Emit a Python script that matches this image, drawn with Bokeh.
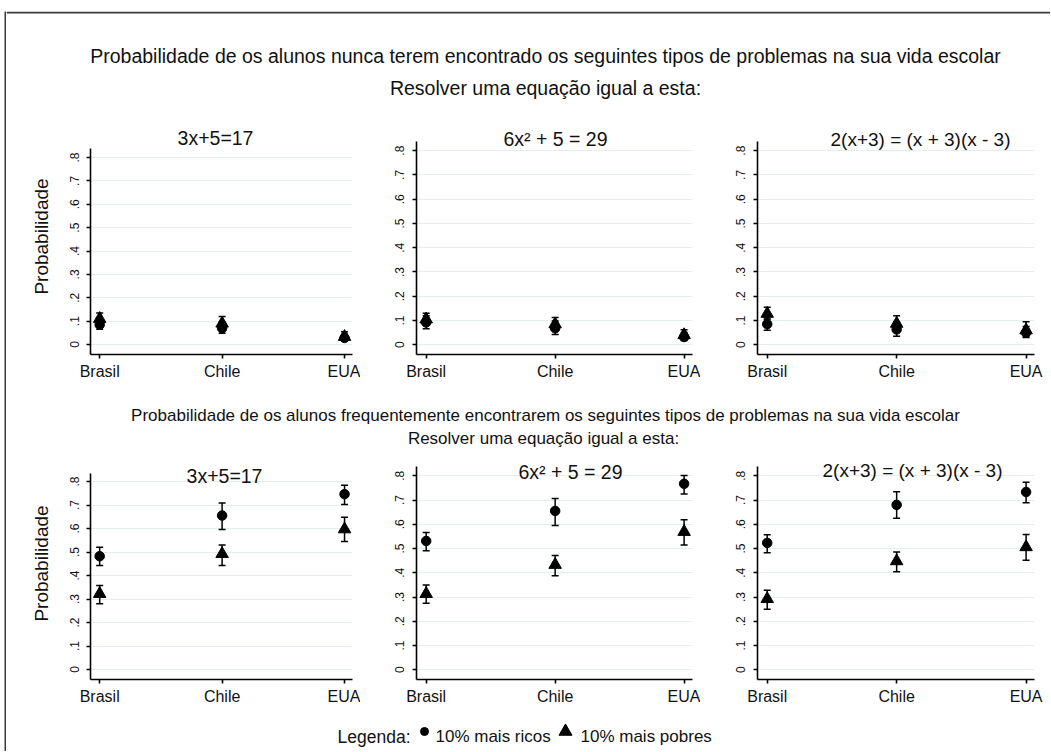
from bokeh.plotting import figure
from bokeh.layouts import column, row
from bokeh.models import Range1d, FixedTicker, Whisker, TeeHead, ColumnDataSource
from bokeh.core.properties import value
from bokeh.embed import file_html
from bokeh.resources import INLINE

FONT = "Liberation Sans"
INK = "#111111"
FRAME = "#3a3a3a"

# ---------------- data ----------------
countries = ["Brasil", "Chile", "EUA"]
country_pos = [1, 2, 3]
y_tick_values = [0, 0.1, 0.2, 0.3, 0.4, 0.5, 0.6, 0.7, 0.8]
y_tick_labels = ["0", ".1", ".2", ".3", ".4", ".5", ".6", ".7", ".8"]
equations = ["3x+5=17", "6x\u00b2 + 5 = 29", "2(x+3) = (x + 3)(x - 3)"]
title_never = "Probabilidade de os alunos nunca terem encontrado os seguintes tipos de problemas na sua vida escolar"
title_often = "Probabilidade de os alunos frequentemente encontrarem os seguintes tipos de problemas na sua vida escolar"
subtitle = "Resolver uma equação igual a esta:"
y_label = "Probabilidade"
legend_label = "Legenda:"
series_labels = ["10% mais ricos", "10% mais pobres"]

# "nunca" (never) - one list per equation, values for Brasil, Chile, EUA
never_rich = [[0.085, 0.070, 0.028], [0.092, 0.068, 0.032], [0.085, 0.063, 0.050]]
never_rich_lo = [[0.065, 0.048, 0.015], [0.066, 0.042, 0.018], [0.060, 0.035, 0.030]]
never_rich_hi = [[0.110, 0.095, 0.045], [0.120, 0.098, 0.050], [0.110, 0.095, 0.075]]
never_poor = [[0.110, 0.090, 0.033], [0.105, 0.085, 0.040], [0.128, 0.087, 0.060]]
never_poor_lo = [[0.085, 0.065, 0.018], [0.082, 0.060, 0.025], [0.105, 0.060, 0.035]]
never_poor_hi = [[0.135, 0.120, 0.055], [0.130, 0.112, 0.062], [0.155, 0.120, 0.095]]

# "frequentemente" (often)
often_rich = [[0.482, 0.655, 0.746], [0.531, 0.655, 0.767], [0.523, 0.680, 0.733]]
often_rich_lo = [[0.443, 0.596, 0.702], [0.491, 0.595, 0.725], [0.483, 0.625, 0.689]]
often_rich_hi = [[0.520, 0.708, 0.784], [0.566, 0.706, 0.801], [0.557, 0.734, 0.773]]
often_poor = [[0.322, 0.492, 0.597], [0.313, 0.433, 0.569], [0.292, 0.448, 0.506]]
often_poor_lo = [[0.280, 0.443, 0.545], [0.274, 0.388, 0.515], [0.250, 0.404, 0.452]]
often_poor_hi = [[0.357, 0.530, 0.648], [0.350, 0.471, 0.619], [0.328, 0.486, 0.558]]

# ---------------- layout geometry (page pixels) ----------------
OX, OY = 6, 11
X_RIGHT = 1050      # right edge of every strip and panel row
# figure left, figure right, frame left, frame right
cols = [(OX, 360, 90, 352), (360, 700, 416, 692), (700, X_RIGHT, 757, 1034)]
H1 = (OY, 118)
ROW1 = (118, 395)
H2 = (395, 447)
ROW2 = (447, 716)
LEG = (716, 751)
# pixel of value 0, pixel of value .8, top of axis line, bottom of frame
row1_geo = [(344, 157, 148, 354), (350, 151, 142, 360), (350, 151, 142, 360)]
row2_geo = [(669, 481, 473, 679), (675, 476, 467, 685), (675, 476, 467, 685)]
# panel title centre x and baseline y
row1_titles = [(215, 137), (555, 139), (920, 140)]
row2_titles = [(224, 475), (570, 472), (912, 471)]
X_RANGE = (0.925, 3.065)


def blank(y0, y1):
    p = figure(width=X_RIGHT - OX, height=y1 - y0, x_range=Range1d(OX, X_RIGHT),
               y_range=Range1d(y1, y0), x_axis_type=None, y_axis_type=None,
               output_backend="svg", toolbar_location=None, min_border=0, title=None)
    p.outline_line_color = None
    p.xgrid.visible = False
    p.ygrid.visible = False
    p.background_fill_color = "white"
    p.border_fill_color = "white"
    return p


def add_text(p, x, y, txt, size, align="center"):
    p.text(x=[x], y=[y], text=[txt], text_align=align, text_baseline="alphabetic",
           text_font=value(FONT), text_font_size=size, text_color=INK)


def panel(ci, geo, fig_y, title_pos, rich, rlo, rhi, poor, plo, phi, with_label):
    x0, x1, fl, fr = cols[ci]
    y0px, y8px, axis_top, fb = geo
    top, bottom = fig_y
    unit = (y0px - y8px) / 0.8
    y_start = -(fb - y0px) / unit
    y_end = 0.8 + (y8px - top) / unit
    y_axis_top = 0.8 + (y8px - axis_top) / unit
    xunit = (fr - fl) / (X_RANGE[1] - X_RANGE[0])

    p = figure(width=x1 - x0, height=bottom - top, x_range=Range1d(*X_RANGE),
               y_range=Range1d(y_start, y_end),
               min_border_left=fl - x0, min_border_right=x1 - fr,
               min_border_top=0, min_border_bottom=bottom - fb,
               output_backend="svg", toolbar_location=None, title=None)
    p.outline_line_color = None
    p.background_fill_color = "white"
    p.border_fill_color = "white"
    p.xgrid.visible = False
    p.ygrid.ticker = FixedTicker(ticks=y_tick_values)
    p.ygrid.grid_line_color = "#e4eef0"
    p.ygrid.grid_line_width = 1

    xa = p.xaxis[0]
    xa.ticker = FixedTicker(ticks=country_pos)
    xa.major_label_overrides = dict(zip(country_pos, countries))
    ya = p.yaxis[0]
    ya.ticker = FixedTicker(ticks=y_tick_values)
    ya.major_label_overrides = dict(zip(y_tick_values, y_tick_labels))
    ya.major_label_orientation = "vertical"
    ya.bounds = (y_start, y_axis_top)
    for ax in (xa, ya):
        ax.axis_line_width = 1.6
        ax.axis_line_color = "black"
        ax.major_tick_line_width = 1.6
        ax.major_tick_line_color = "black"
        ax.major_tick_out = 4
        ax.major_tick_in = 0
        ax.minor_tick_line_color = None
        ax.major_label_text_font = FONT
        ax.major_label_text_color = INK
    xa.major_label_text_font_size = "16px"
    xa.major_label_standoff = 4
    ya.major_label_text_font_size = "12px"
    ya.major_label_standoff = 8
    if with_label:
        ya.axis_label = y_label
        ya.axis_label_text_font = FONT
        ya.axis_label_text_font_size = "19px"
        ya.axis_label_text_font_style = "normal"
        ya.axis_label_text_color = INK
        ya.axis_label_standoff = 15

    # panel title (position converted from page pixels to the panel's own scale)
    tx, ty = title_pos
    p.text(x=[X_RANGE[0] + (tx - fl) / xunit], y=[0.8 + (y8px - ty) / unit],
           text=[equations[ci]], text_align="center", text_baseline="alphabetic",
           text_font=value(FONT), text_font_size="19.5px" if ci < 2 else "19px",
           text_color=INK)

    for lo, hi in ((rlo, rhi), (plo, phi)):
        src = ColumnDataSource(dict(x=country_pos, lo=lo, hi=hi))
        p.add_layout(Whisker(source=src, base="x", lower="lo", upper="hi", dimension="height",
                             line_color="black", line_width=1.5,
                             upper_head=TeeHead(size=7, line_width=1.5, line_color="black"),
                             lower_head=TeeHead(size=7, line_width=1.5, line_color="black")))
    p.scatter(country_pos, rich, marker="circle", size=9.5, color="black")
    p.scatter(country_pos, poor, marker="triangle", size=12.5, color="black")
    return p


# header 1 (its top 2 px carry the top edge of the outer frame)
h1 = blank(*H1)
h1.quad(left=[OX], right=[X_RIGHT], top=[OY], bottom=[OY + 2],
        fill_color=FRAME, line_color=None)
add_text(h1, 545, 55, title_never, "19.5px")
add_text(h1, 545, 87, subtitle, "19.5px")

row1 = row(*[panel(i, row1_geo[i], ROW1, row1_titles[i],
                   never_rich[i], never_rich_lo[i], never_rich_hi[i],
                   never_poor[i], never_poor_lo[i], never_poor_hi[i], i == 0) for i in range(3)])

# header 2
h2 = blank(*H2)
add_text(h2, 545, 415, title_often, "17px")
add_text(h2, 543, 438, subtitle, "17px")

row2 = row(*[panel(i, row2_geo[i], ROW2, row2_titles[i],
                   often_rich[i], often_rich_lo[i], often_rich_hi[i],
                   often_poor[i], often_poor_lo[i], often_poor_hi[i], i == 0) for i in range(3)])

# legend strip
leg = blank(*LEG)
add_text(leg, 337, 736, legend_label, "17.5px", align="left")
leg.scatter([424], [731], marker="circle", size=8, color="black")
add_text(leg, 435, 736, series_labels[0], "17px", align="left")
leg.scatter([565], [731], marker="triangle", size=13, color="black")
add_text(leg, 580, 736, series_labels[1], "17px", align="left")

# left edge of the outer frame
left_bar = figure(width=2, height=LEG[1] - OY, x_axis_type=None, y_axis_type=None,
                  output_backend="svg", toolbar_location=None, min_border=0, title=None)
left_bar.outline_line_color = None
left_bar.xgrid.visible = False
left_bar.ygrid.visible = False
left_bar.background_fill_color = FRAME
left_bar.border_fill_color = FRAME

inner = column(h1, row1, h2, row2, leg)
layout = row(left_bar, inner, styles={"margin-left": "4px", "margin-top": "11px"})

open("out.html", "w").write(file_html(layout, INLINE))
